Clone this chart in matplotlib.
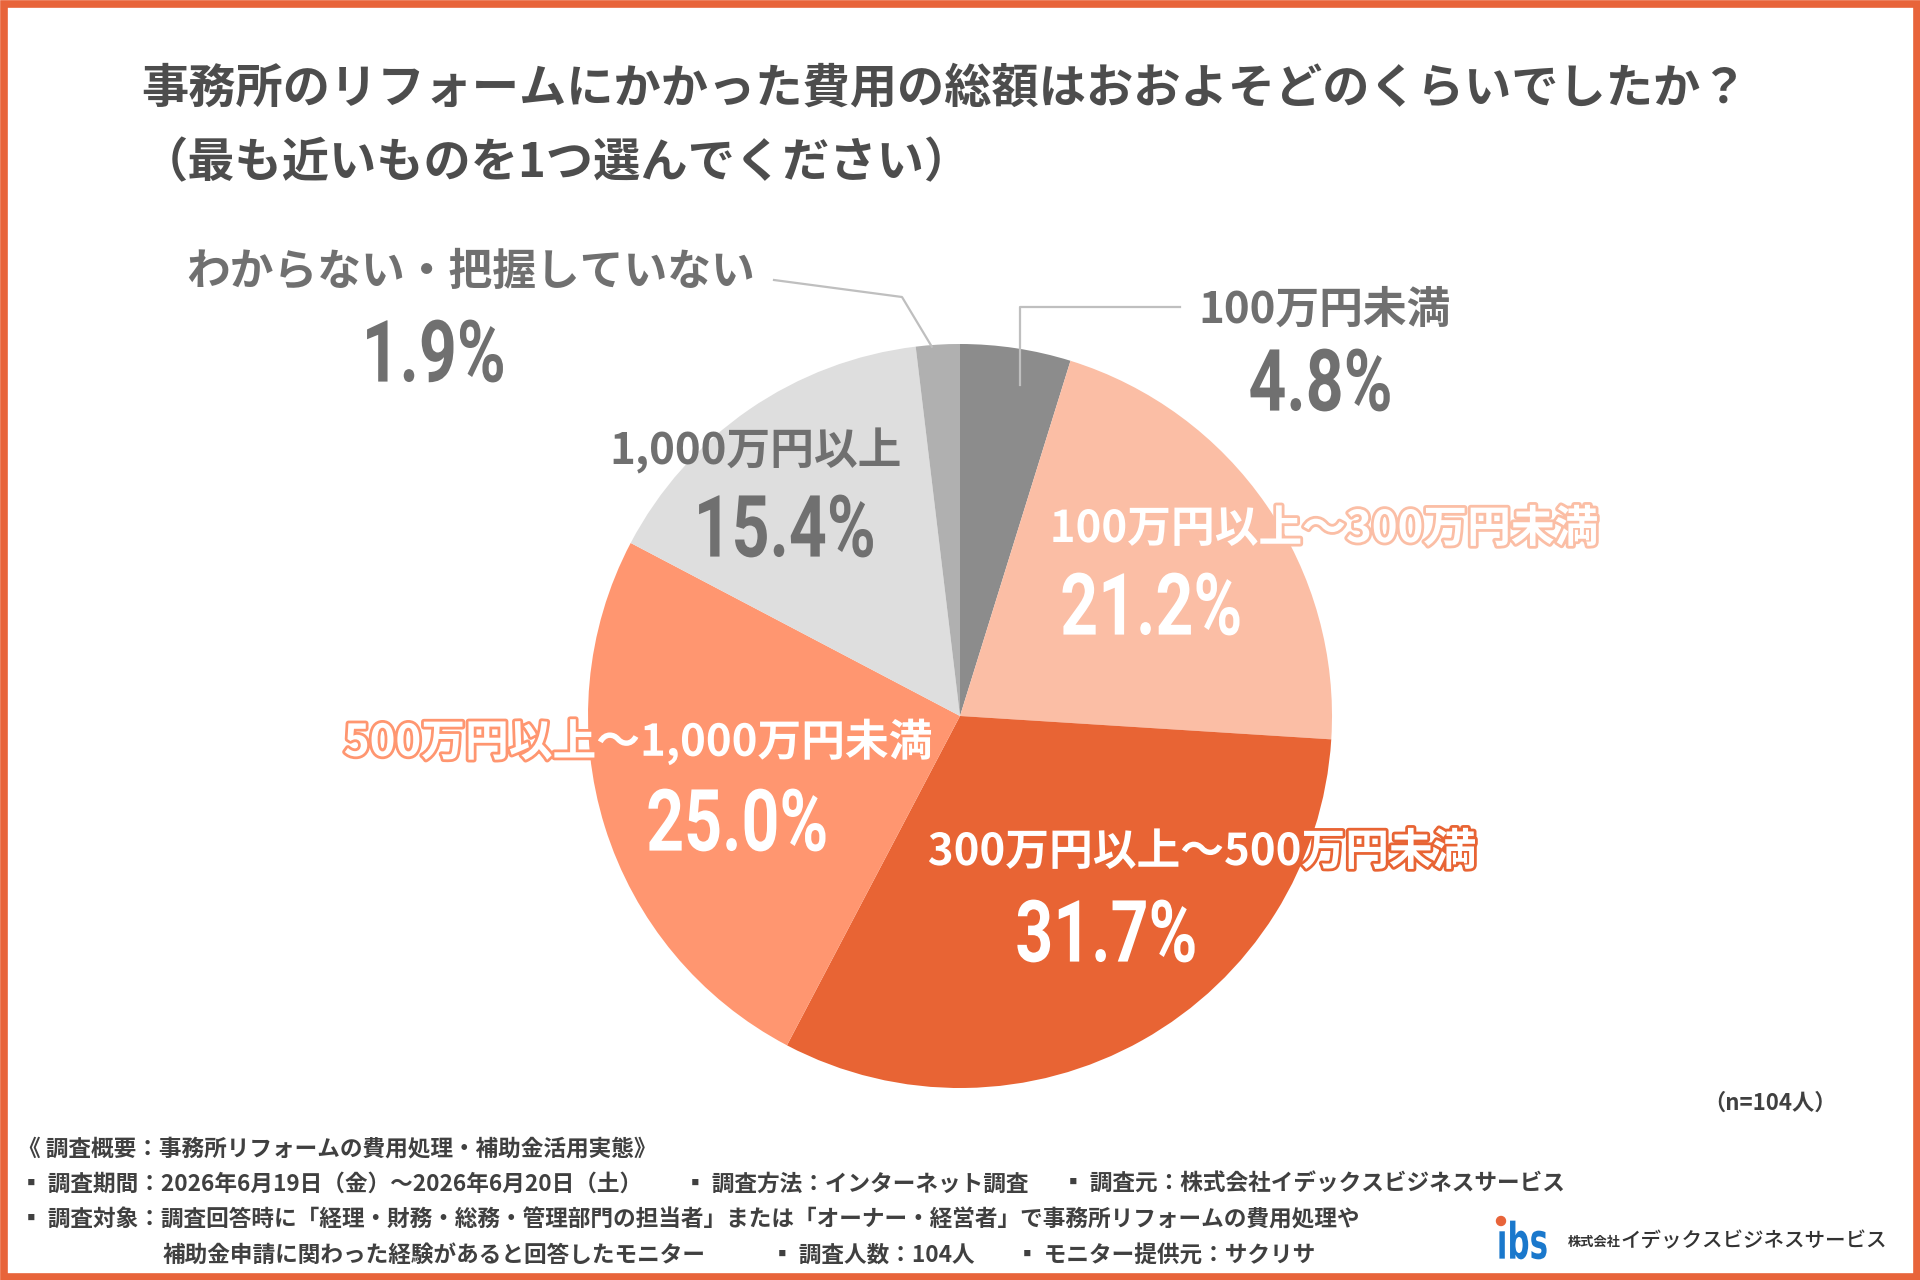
import numpy as np
import matplotlib.pyplot as plt
import matplotlib.patheffects as pe
import matplotlib.transforms as mtransforms
from matplotlib.textpath import TextPath
from matplotlib.patches import PathPatch, Rectangle, Circle
from matplotlib.font_manager import FontProperties

plt.rcParams['font.family'] = ['Noto Sans CJK JP', 'DejaVu Sans']

# --- data ---
categories = ['100万円未満', '100万円以上～300万円未満', '300万円以上～500万円未満',
              '500万円以上～1,000万円未満', '1,000万円以上', 'わからない・把握していない']
shares = [4.8, 21.2, 31.7, 25.0, 15.4, 1.9]
colors = ['#8C8C8C', '#FBBEA5', '#E86434', '#FF9670', '#DEDEDE', '#B0B0B0']
n_total = 104

title1 = '事務所のリフォームにかかった費用の総額はおおよそどのくらいでしたか？'
title2 = '（最も近いものを1つ選んでください）'

# label placement (pixel coords, y from top): label xy, percent xy, on-slice?
label_pos = [(1325, 310), (1324, 529), (1202, 852), (638, 742), (756, 451), (471, 272)]
pct_pos = [(1320, 380), (1151, 604), (1106, 931), (737, 820), (786, 526), (435, 351)]
inside = [False, True, True, True, False, False]

GRAY = '#707070'
ORANGE = '#E8643A'
W, H = 1920, 1280

fig = plt.figure(figsize=(W / 100, H / 100), dpi=100)
ax = fig.add_axes([0, 0, 1, 1])
cx, cy, R = 960, 716, 372
# y axis is flipped below, so counterclock=True reads clockwise on screen
wedges, _ = ax.pie(shares, colors=colors, startangle=-90, counterclock=True,
                   center=(cx, cy), radius=R, wedgeprops=dict(linewidth=0))
ax.set_xlim(0, W)
ax.set_ylim(H, 0)
ax.set_aspect('equal')
ax.axis('off')

pct_font = FontProperties(family='Roboto', weight='bold')


def cond_text(x, y, s, size, color, sx=0.77, prop=pct_font):
    # condensed text drawn as a path (matplotlib can't stretch fonts)
    tp = TextPath((0, 0), s, size=size, prop=prop)
    b = tp.get_extents()
    tr = (mtransforms.Affine2D().translate(-(b.x0 + b.x1) / 2, -(b.y0 + b.y1) / 2)
          .scale(sx, -1).translate(x, y))
    ax.add_patch(PathPatch(tr.transform_path(tp), fc=color, ec='none', lw=0))


for i, (cat, v) in enumerate(zip(categories, shares)):
    lx, ly = label_pos[i]
    px, py = pct_pos[i]
    if inside[i]:
        ax.text(lx, ly, cat, fontsize=31.5, fontweight='bold', color='white',
                ha='center', va='center',
                path_effects=[pe.withStroke(linewidth=4, foreground=colors[i])])
        cond_text(px, py, f'{v:.1f}%', 86, 'white')
    else:
        ax.text(lx, ly, cat, fontsize=31.5, fontweight='bold', color=GRAY,
                ha='center', va='center')
        cond_text(px, py, f'{v:.1f}%', 86, GRAY)

# leader lines
w0 = wedges[0]
a0 = np.deg2rad((w0.theta1 + w0.theta2) / 2)
ex0, ey0 = cx + 0.9 * R * np.cos(a0), cy + 0.9 * R * np.sin(a0)
ax.plot([1180, ex0 + 10, ex0 + 10], [307, 307, ey0], color='#BFBFBF', lw=1.6)

w5 = wedges[5]
a5 = np.deg2rad((w5.theta1 + w5.theta2) / 2)
ex5, ey5 = cx + R * np.cos(a5), cy + R * np.sin(a5)
ax.plot([774, 902, ex5 - 6], [280, 297, ey5 + 2], color='#BFBFBF', lw=1.6)

# title
ax.text(141, 88, title1, fontsize=34, fontweight='bold', color='#4D4D4D', va='center')
ax.text(141, 163, title2, fontsize=34, fontweight='bold', color='#4D4D4D', va='center')

ax.text(1770, 1103, f'（n={n_total}人）', fontsize=16, fontweight='bold',
        color='#404040', ha='center', va='center')

# footer
foot = dict(fontsize=16.3, fontweight='bold', color='#404040', va='center')
ax.text(18, 1149, '《 調査概要：事務所リフォームの費用処理・補助金活用実態》', **foot)
ax.text(20, 1184, '▪ 調査期間：2026年6月19日（金）～2026年6月20日（土）', **foot)
ax.text(684, 1184, '▪ 調査方法：インターネット調査', **foot)
ax.text(1062, 1184, '▪ 調査元：株式会社イデックスビジネスサービス', **foot)
ax.text(20, 1220, '▪ 調査対象：調査回答時に「経理・財務・総務・管理部門の担当者」または'
        '「オーナー・経営者」で事務所リフォームの費用処理や', **foot)
ax.text(163, 1255, '補助金申請に関わった経験があると回答したモニター', **foot)
ax.text(771, 1255, '▪ 調査人数：104人', **foot)
ax.text(1016, 1255, '▪ モニター提供元：サクリサ', **foot)

# logo
logo_font = FontProperties(family='DejaVu Sans', weight='bold')
cond_text(1523, 1240, 'ıbs', 50, '#1A78CC', sx=0.62, prop=logo_font)
ax.add_patch(Circle((1501, 1221), 4.5, color=ORANGE))
ax.text(1568, 1242, '株式会社', fontsize=9.5, color='#333333', va='center', fontweight='bold')
ax.text(1620, 1241, 'イデックスビジネスサービス', fontsize=14.8, color='#333333', va='center',
        fontweight='medium')

# border
ax.add_patch(Rectangle((3.5, 3.5), W - 7, H - 7, fill=False, ec=ORANGE, lw=5.5))

fig.savefig('out.png', dpi=100)
